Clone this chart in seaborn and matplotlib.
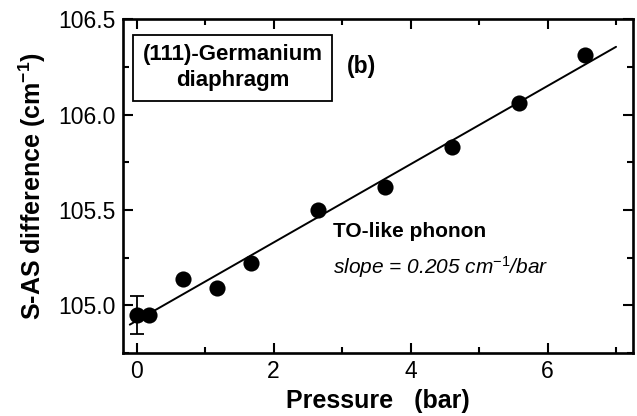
import numpy as np
import pandas as pd
import seaborn as sns
import matplotlib.pyplot as plt

pressure = [0.0, 0.18, 0.68, 1.17, 1.67, 2.65, 3.63, 4.60, 5.58, 6.55]
sas_diff = [104.95, 104.95, 105.14, 105.09, 105.22, 105.50, 105.62, 105.83, 106.06, 106.31]
err_pressure = [0.0]
err_value = [104.95]
err_size = [0.10]

# linear fit
fit_slope = 0.205
fit_intercept = 104.92
fit_range = [-0.1, 7.0]

sns.set_theme(style="ticks")
plt.rcParams['font.family'] = ['Liberation Sans', 'DejaVu Sans']
plt.rcParams['mathtext.fontset'] = 'custom'
plt.rcParams['mathtext.rm'] = 'Liberation Sans'
plt.rcParams['mathtext.it'] = 'Liberation Sans:italic'
plt.rcParams['mathtext.bf'] = 'Liberation Sans:bold'
plt.rcParams.update({"text.color": "black", "axes.labelcolor": "black",
                     "axes.edgecolor": "black", "xtick.color": "black",
                     "ytick.color": "black"})

df = pd.DataFrame({"Pressure": pressure, "SAS": sas_diff})
fx = np.array(fit_range)
fit = pd.DataFrame({"Pressure": fx, "SAS": fit_intercept + fit_slope * fx})

fig = plt.figure(figsize=(6.37, 4.16), dpi=100)
ax = fig.add_axes([0.193, 0.151, 0.801, 0.803])

sns.lineplot(data=fit, x="Pressure", y="SAS", color="black", lw=1.4, ax=ax)
ax.errorbar(err_pressure, err_value, yerr=err_size, fmt="none", ecolor="black",
            elinewidth=1.3, capsize=5, capthick=1.3)
sns.scatterplot(data=df, x="Pressure", y="SAS", color="black", s=135,
                edgecolor="black", linewidth=0, ax=ax, zorder=3)

ax.set_xlim(-0.2, 7.25)
ax.set_ylim(104.755, 106.5)
ax.set_xticks([0, 2, 4, 6])
ax.set_xticks([1, 3, 5, 7], minor=True)
ax.set_yticks([105.0, 105.5, 106.0, 106.5])
ax.set_yticks([104.75, 105.25, 105.75, 106.25], minor=True)
ax.set_yticklabels(["105.0", "105.5", "106.0", "106.5"])
ax.tick_params(which="both", direction="in", top=True, right=True, labelsize=16.5,
               width=1.5, pad=5)
ax.tick_params(which="major", length=7)
ax.tick_params(which="minor", length=4)
for s in ax.spines.values():
    s.set_linewidth(1.9)

ax.set_xlabel("Pressure   (bar)", fontsize=18, fontweight="bold", labelpad=4)
ax.set_ylabel(r"S-AS difference (cm$^{\mathbf{-1}}$)", fontsize=18,
              fontweight="bold", labelpad=8)

ax.text(1.4, 106.245, "(111)-Germanium\ndiaphragm", fontsize=16,
        fontweight="bold", ha="center", va="center", linespacing=1.3,
        bbox=dict(boxstyle="square,pad=0.42", fc="white", ec="black", lw=1.3))
ax.text(3.07, 106.25, "(b)", fontsize=16.5, fontweight="bold", va="center")
ax.text(2.86, 105.385, "TO-like phonon", fontsize=15, fontweight="bold", va="center")
ax.text(2.86, 105.2, r"slope = 0.205 cm$^{-1}$/bar", fontsize=15,
        style="italic", va="center")

fig.savefig("out.png", dpi=100)
